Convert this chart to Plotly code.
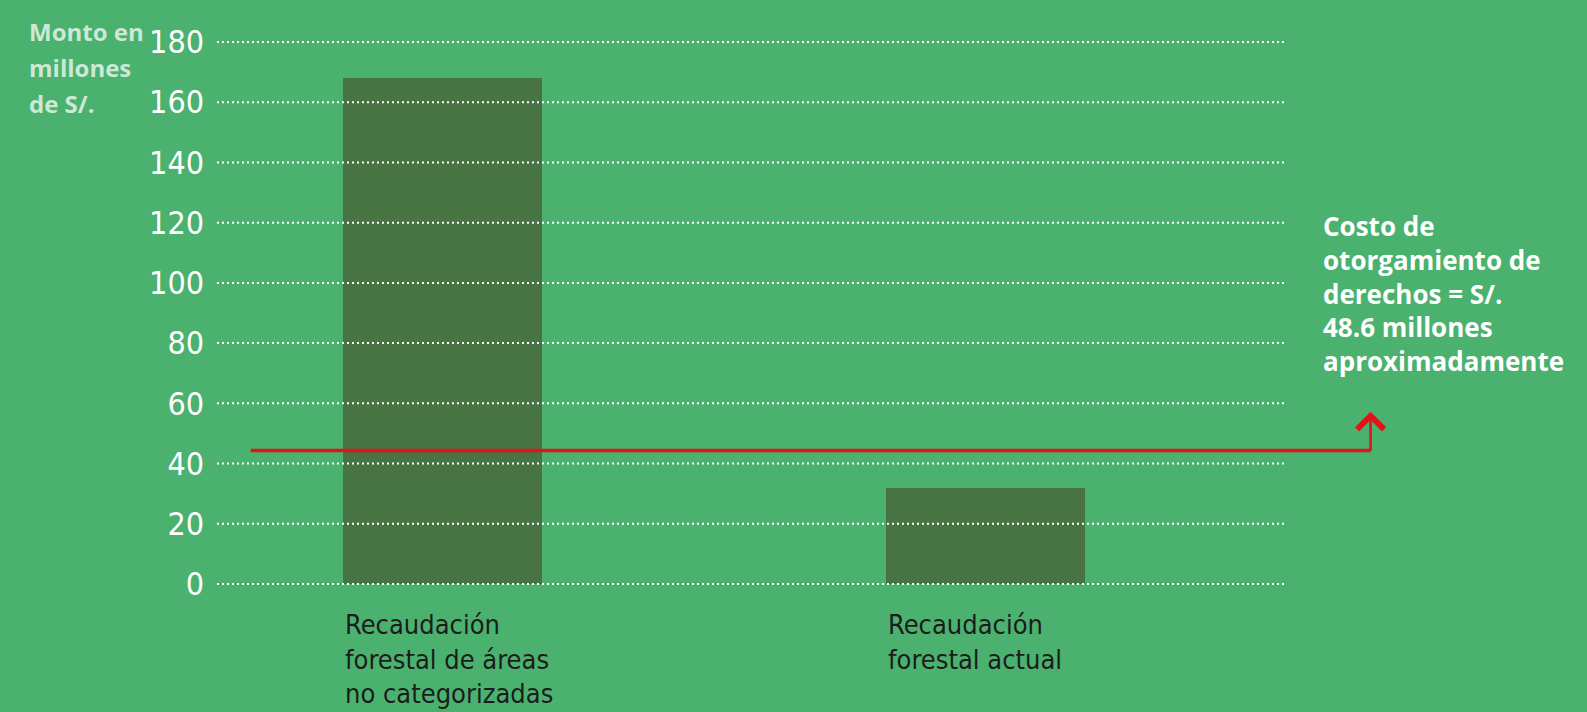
import plotly.graph_objects as go

# ── Data ─────────────────────────────────────────────────────
categories = [
    "Recaudación<br>forestal de áreas<br>no categorizadas",
    "Recaudación<br>forestal actual",
]
values = [168, 32]                      # millones de S/.
bar_x = [0, 1]
y_ticks = [0, 20, 40, 60, 80, 100, 120, 140, 160, 180]

cost_level = 44.3                       # level where the red line is drawn
cost_arrow_top = 57.2
cost_note = "Costo de<br>otorgamiento de<br>derechos = S/.<br>48.6 millones<br>aproximadamente"
y_title = "Monto en<br>millones<br>de S/."

# ── Styling ──────────────────────────────────────────────────
BG = "#4ab26e"
BAR = "#477442"
RED = "#e3131b"
NARROW = "DejaVu Sans Condensed, Liberation Sans Narrow, Arial Narrow, Roboto, sans-serif"
BOLD = "Open Sans, DejaVu Sans, sans-serif"

BAR_W = 0.367
X_RANGE = [-0.416, 1.80]
GRID_X = [-0.416, 1.554]
LINE_X = [-0.354, 1.709]

fig = go.Figure()

fig.add_trace(go.Bar(
    x=bar_x, y=values, width=BAR_W,
    marker=dict(color=BAR, line_width=0),
    hoverinfo="skip",
))

# red cost line, vertical part with chevron arrow head
fig.add_trace(go.Scatter(
    x=LINE_X, y=[cost_level, cost_level],
    mode="lines", line=dict(color=RED, width=3.5),
    hoverinfo="skip",
))
fig.add_annotation(
    x=LINE_X[1], y=cost_arrow_top, ax=LINE_X[1], ay=cost_level - 0.6,
    xref="x", yref="y", axref="x", ayref="y",
    text="", showarrow=True, arrowhead=4, arrowsize=2.0,
    arrowwidth=2.6, arrowcolor=RED,
)

# dotted gridlines drawn above the bars
for t in y_ticks:
    fig.add_shape(
        type="line", xref="x", yref="y",
        x0=GRID_X[0], x1=GRID_X[1], y0=t, y1=t,
        line=dict(color="white", width=2, dash="2px,3px"),
        layer="above",
    )

# category labels, left aligned under each bar, one annotation per line
for xb, label in zip(bar_x, categories):
    for i, line in enumerate(label.split("<br>")):
        fig.add_annotation(
            x=xb - BAR_W / 2, y=-0.057 - 0.0615 * i,
            xref="x", yref="paper", xanchor="left", yanchor="middle",
            text=line, showarrow=False,
            font=dict(family=NARROW, size=27, color="#1c1c1c"),
        )

# y axis title, top left
for i, line in enumerate(y_title.split("<br>")):
    fig.add_annotation(
        x=-0.158, y=1.002 - 0.0643 * i,
        xref="paper", yref="paper", xanchor="left", yanchor="middle",
        text=f"<b>{line}</b>", showarrow=False,
        font=dict(family=BOLD, size=24, color="rgba(255,255,255,0.72)"),
    )

# note on the right
fig.add_annotation(
    x=1.618, y=96.6,
    xref="x", yref="y", xanchor="left", yanchor="middle", align="left",
    text=f"<b>{cost_note}</b>", showarrow=False,
    font=dict(family=BOLD, size=26, color="white"),
)

fig.update_layout(
    width=1587, height=712,
    margin=dict(l=217, r=167, t=33, b=119),
    paper_bgcolor=BG, plot_bgcolor=BG,
    showlegend=False,
    bargap=0,
)
fig.update_xaxes(
    range=X_RANGE, showgrid=False, zeroline=False,
    showticklabels=False, showline=False, ticks="",
)
fig.update_yaxes(
    range=[-3, 183], tickvals=y_ticks, showgrid=False, zeroline=False,
    showline=False, ticks="", ticklabelstandoff=12,
    tickfont=dict(family=NARROW, size=32, color="white"),
)

fig.write_html(
    "out.html",
    config={"displayModeBar": False},
    post_script="document.body.style.margin='0';document.body.style.background='" + BG + "';",
)
